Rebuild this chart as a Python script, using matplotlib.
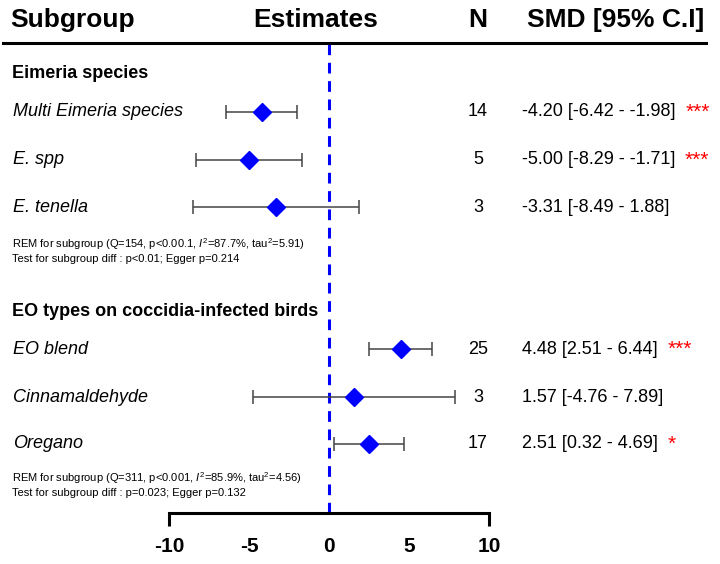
"""Forest plot of SMD by subgroup (Eimeria species / EO types)."""
import matplotlib
matplotlib.use("Agg")
import matplotlib.pyplot as plt
import matplotlib.transforms as mtransforms

plt.rcParams["font.family"] = ["Liberation Sans", "DejaVu Sans"]
plt.rcParams["mathtext.fontset"] = "custom"
plt.rcParams["mathtext.rm"] = "Liberation Sans"
plt.rcParams["mathtext.it"] = "Liberation Sans:italic"

# ---------- data ----------
group_titles = ["Eimeria species", "EO types on coccidia-infected birds"]
labels = ["Multi Eimeria species", "E. spp", "E. tenella",
          "EO blend", "Cinnamaldehyde", "Oregano"]
smd = [-4.20, -5.00, -3.31, 4.48, 1.57, 2.51]
ci_lo = [-6.42, -8.29, -8.49, 2.51, -4.76, 0.32]
ci_hi = [-1.98, -1.71, 1.88, 6.44, 7.89, 4.69]
n_studies = [14, 5, 3, 25, 3, 17]
signif = ["***", "***", "", "***", "", "*"]
group_notes = [
    ["REM for subgroup (Q=154, p<0.00.1, $I^2$=87.7%, tau$^2$=5.91)",
     "Test for subgroup diff : p<0.01; Egger p=0.214"],
    ["REM for subgroup (Q=311, p<0.001, $I^2$=85.9%, tau$^2$=4.56)",
     "Test for subgroup diff : p=0.023; Egger p=0.132"],
]
xticks = [-10, -5, 0, 5, 10]

# ---------- layout (pixel rows, top = 0) ----------
W, H = 720, 564
row_y = [112, 160, 207, 349, 397, 444]
title_y = [74, 311]
note_y = [(244, 259), (478, 493)]
header_y = 20
ax_left, ax_right, ax_top, ax_bottom = 169, 489, 43, 513

fig = plt.figure(figsize=(W / 100, H / 100), dpi=100)
ax = fig.add_axes([ax_left / W, (H - ax_bottom) / H,
                   (ax_right - ax_left) / W, (ax_bottom - ax_top) / H])
ax.set_xlim(xticks[0], xticks[-1])
ax.set_ylim(ax_bottom, ax_top)
for s in ["top", "left", "right"]:
    ax.spines[s].set_visible(False)
ax.spines["bottom"].set_linewidth(2.2)
ax.set_yticks([])
ax.set_xticks(xticks)
ax.set_xticklabels([str(t) for t in xticks], fontsize=15, fontweight="bold")
ax.tick_params(axis="x", length=9, width=2.2, pad=8)
for t, tick in zip(xticks, ax.xaxis.get_major_ticks()):
    if t not in (xticks[0], xticks[-1]):
        tick.tick1line.set_visible(False)

# zero line
ax.axvline(0, color="#0000ff", lw=2.2, ls=(0, (3.5, 2.5)), zorder=1)

# CIs and point estimates
for y, m, lo, hi in zip(row_y, smd, ci_lo, ci_hi):
    ax.errorbar(m, y, xerr=[[m - lo], [hi - m]], fmt="none", ecolor="#444444",
                elinewidth=1.1, capsize=5, capthick=1.1, zorder=2)
    ax.plot(m, y, marker="D", ms=9, color="#0000ff", ls="none", zorder=3)

# text columns: x in figure pixels, y in data rows
trans = mtransforms.blended_transform_factory(
    mtransforms.Affine2D().scale(1 / W, 1) + fig.transFigure, ax.transData)

hdr = dict(transform=trans, fontsize=19, fontweight="bold", va="center", clip_on=False)
ax.text(10, header_y, "Subgroup", ha="left", **hdr)
ax.text(316, header_y, "Estimates", ha="center", **hdr)
ax.text(478, header_y, "N", ha="center", **hdr)
ax.text(704, header_y, "SMD [95% C.I]", ha="right", **hdr)
ax.axhline(ax_top, xmin=(3 - ax_left) / (ax_right - ax_left),
           xmax=(706 - ax_left) / (ax_right - ax_left),
           color="black", lw=2.2, clip_on=False)

for ty, title in zip(title_y, group_titles):
    ax.text(12, ty, title, transform=trans, fontsize=13, fontweight="bold",
            va="center", ha="left", clip_on=False)

for y, lab, m, lo, hi, k, st in zip(row_y, labels, smd, ci_lo, ci_hi,
                                     n_studies, signif):
    ax.text(13, y, lab, transform=trans, fontsize=13, style="italic",
            va="center", ha="left", clip_on=False)
    ax.text(478, y, str(k), transform=trans, fontsize=13,
            va="center", ha="center", clip_on=False)
    t = ax.text(522, y, f"{m:.2f} [{lo:.2f} - {hi:.2f}]", transform=trans,
                fontsize=13, va="center", ha="left", clip_on=False)
    if st:
        ax.annotate(st, xy=(1, 0.5), xycoords=t, xytext=(7, 0),
                    textcoords="offset points", color="red", fontsize=15,
                    va="center", ha="left", annotation_clip=False)

for ys, lines in zip(note_y, group_notes):
    for y, line in zip(ys, lines):
        ax.text(12, y, line, transform=trans, fontsize=8, va="center",
                ha="left", clip_on=False)

fig.savefig("out.png", dpi=100)
